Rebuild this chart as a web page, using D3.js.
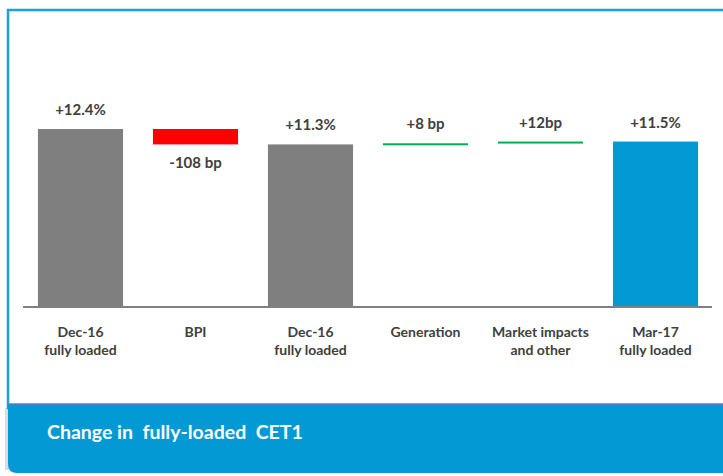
<!DOCTYPE html>
<html>
<head>
<meta charset="utf-8">
<script src="https://cdn.jsdelivr.net/npm/d3@7"></script>
<style>
  html, body { margin: 0; padding: 0; background: #fff; }
  svg { display: block; }
</style>
</head>
<body>
<svg id="chart" width="723" height="476"></svg>
<script>
// ---- data ----
const categories = ["Dec-16\nfully loaded", "BPI", "Dec-16\nfully loaded", "Generation", "Market impacts\nand other", "Mar-17\nfully loaded"];
const kinds = ["total", "delta", "total", "delta", "delta", "total"];
const values = [12.4, -1.08, 11.32, 0.08, 0.12, 11.52];
const valueLabels = ["+12.4%", "-108 bp", "+11.3%", "+8 bp", "+12bp", "+11.5%"];
const barColors = ["#7f7f7f", "#ff0000", "#7f7f7f", "#00b050", "#00b050", "#0399d5"];
const title = "Change in\u00a0 fully-loaded\u00a0 CET1";

// ---- build waterfall ----
let run = 0;
const rows = categories.map((c, i) => {
  let y0, y1;
  if (kinds[i] === "total") { y0 = 0; y1 = values[i]; run = values[i]; }
  else { y0 = run; y1 = run + values[i]; run = y1; }
  return { cat: i, label: c, lo: Math.min(y0, y1), hi: Math.max(y0, y1), kind: kinds[i], v: values[i], text: valueLabels[i], color: barColors[i] };
});

const svg = d3.select("#chart");
const font = "Lato, 'Open Sans', sans-serif";

// frame
svg.append("rect").attr("x", 5).attr("y", 408).attr("width", 4).attr("height", 62).attr("fill", "#dcdcdc");
svg.append("rect").attr("x", 8).attr("y", 10).attr("width", 720).attr("height", 398)
  .attr("fill", "#fff").attr("stroke", "#1aa0dc").attr("stroke-width", 2.5);

// footer band
const fx = 8, fy = 404, fw = 720, fh = 69, r = 9;
svg.append("path")
  .attr("d", `M${fx},${fy} H${fx + fw} V${fy + fh} H${fx + r} Q${fx},${fy + fh} ${fx},${fy + fh - r} Z`)
  .attr("fill", "#0399d5");
svg.append("line").attr("x1", fx).attr("x2", fx + fw).attr("y1", fy).attr("y2", fy)
  .attr("stroke", "#5a80c4").attr("stroke-width", 1.5);
svg.append("text").attr("x", 47).attr("y", 439).text(title)
  .attr("fill", "#fff").attr("font-family", font).attr("font-weight", "bold").attr("font-size", 19.5);

// scales
const x = d3.scaleBand().domain(d3.range(categories.length)).range([23, 713]).paddingInner(0.26).paddingOuter(0.13);
const y = d3.scaleLinear().domain([0, 12.4]).range([306, 129]);

// bars
svg.append("g").selectAll("rect").data(rows).join("rect")
  .attr("x", d => x(d.cat))
  .attr("width", x.bandwidth())
  .attr("y", d => y(d.hi))
  .attr("height", d => Math.max(2, y(d.lo) - y(d.hi)))
  .attr("fill", d => d.color);

// baseline axis
const axis = d3.axisBottom(x).tickSize(0).tickFormat("");
const ax = svg.append("g").attr("transform", `translate(0,${y(0) + 1})`).call(axis);
ax.select(".domain").attr("stroke", "#808080").attr("stroke-width", 2).attr("d", "M23,0H712");

// category labels
const cl = svg.append("g").selectAll("text").data(rows).join("text")
  .attr("x", d => x(d.cat) + x.bandwidth() / 2)
  .attr("y", 337)
  .attr("text-anchor", "middle")
  .attr("font-family", font).attr("font-weight", "bold").attr("font-size", 14)
  .attr("fill", "#404040");
cl.selectAll("tspan").data(d => d.label.split("\n")).join("tspan")
  .attr("x", function () { return d3.select(this.parentNode).attr("x"); })
  .attr("dy", (d, i) => i === 0 ? 0 : 18)
  .text(d => d);

// value labels
svg.append("g").selectAll("text").data(rows).join("text")
  .attr("x", d => x(d.cat) + x.bandwidth() / 2)
  .attr("y", d => d.v < 0 ? y(d.lo) + 24 : y(d.hi) - 14)
  .attr("text-anchor", "middle")
  .attr("font-family", font).attr("font-weight", "bold").attr("font-size", 15)
  .attr("fill", "#404040")
  .text(d => d.text);
</script>
</body>
</html>
